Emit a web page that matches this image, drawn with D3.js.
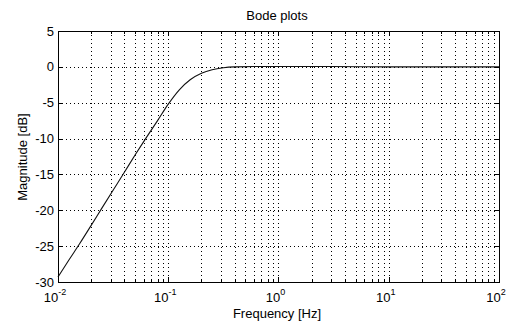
<!DOCTYPE html>
<html><head><meta charset="utf-8">
<script src="https://cdn.jsdelivr.net/npm/d3@7"></script>
<style>
html,body{margin:0;padding:0;background:#fff;}
text{font-family:"Liberation Sans",Arial,sans-serif;fill:#000;}
</style></head>
<body><svg id="c" width="510" height="326"></svg>
<script>
const freqs = [0.01,0.0126,0.0158,0.02,0.025,0.0316,0.04,0.05,0.063,0.08,0.1,0.126,0.158,0.2,0.25,0.316,0.4,0.6,1,3,10,30,100];
const mags  = [-29.3,-26.9,-24.6,-22.1,-19.7,-17.2,-14.7,-12.3,-9.9,-7.5,-5.2,-3.2,-1.8,-0.9,-0.4,-0.12,0,0.05,0.05,0.05,0,0,0];
const yTicks = [5,0,-5,-10,-15,-20,-25,-30];
const xDecadeExps = [-2,-1,0,1,2];
const title = "Bode plots", xLabel = "Frequency [Hz]", yLabel = "Magnitude [dB]";

const L=58, R=499, T=31, B=282;
const svg = d3.select("#c");
const x = d3.scaleLog().domain([0.01,100]).range([L,R]);
const y = d3.scaleLinear().domain([-30,5]).range([B,T]);

const minor = [];
for (let e=-2;e<2;e++) for (let m=1;m<10;m++) minor.push(m*Math.pow(10,e));
minor.push(100);

const g = svg.append("g");
// grid
g.selectAll(".gx").data(minor.filter(v=>v>0.01&&v<100)).enter().append("line")
 .attr("x1",d=>Math.round(x(d))+0.5).attr("x2",d=>Math.round(x(d))+0.5)
 .attr("y1",T).attr("y2",B).attr("stroke","#000").attr("stroke-width",1).attr("stroke-dasharray","1,3");
g.selectAll(".gy").data(yTicks.filter(v=>v>-30&&v<5)).enter().append("line")
 .attr("y1",d=>Math.round(y(d))+0.5).attr("y2",d=>Math.round(y(d))+0.5)
 .attr("x1",L).attr("x2",R).attr("stroke","#000").attr("stroke-width",1).attr("stroke-dasharray","1,3");

// curve
const line = d3.line().x((d,i)=>x(freqs[i])).y(d=>y(d)).curve(d3.curveMonotoneX);
g.append("path").attr("d",line(mags)).attr("fill","none").attr("stroke","#111").attr("stroke-width",1.1);

// box
g.append("rect").attr("x",L+0.5).attr("y",T+0.5).attr("width",R-L).attr("height",B-T)
 .attr("fill","none").attr("stroke","#000").attr("stroke-width",1);

// ticks inward
const tl=4;
minor.forEach(v=>{
  const xx=Math.round(x(v))+0.5;
  const len = Number.isInteger(Math.log10(v)) ? 5 : 3;
  g.append("line").attr("x1",xx).attr("x2",xx).attr("y1",B).attr("y2",B-len).attr("stroke","#000");
  g.append("line").attr("x1",xx).attr("x2",xx).attr("y1",T).attr("y2",T+len).attr("stroke","#000");
});
yTicks.forEach(v=>{
  const yy=Math.round(y(v))+0.5;
  g.append("line").attr("y1",yy).attr("y2",yy).attr("x1",L).attr("x2",L+tl).attr("stroke","#000");
  g.append("line").attr("y1",yy).attr("y2",yy).attr("x1",R).attr("x2",R-tl).attr("stroke","#000");
});

// y tick labels
g.selectAll(".yl").data(yTicks).enter().append("text")
 .attr("x",L-4).attr("y",d=>y(d)+4.5).attr("text-anchor","end").attr("font-size",13).text(d=>d);

// x tick labels
xDecadeExps.forEach(e=>{
  const t = g.append("text").attr("x",x(Math.pow(10,e))-3).attr("y",302).attr("text-anchor","middle").attr("font-size",13);
  t.append("tspan").text("10");
  t.append("tspan").attr("dy",-7).attr("font-size",9).text(e);
});

// labels
svg.append("text").attr("x",277).attr("y",20).attr("text-anchor","middle").attr("font-size",13).text(title);
svg.append("text").attr("x",277).attr("y",318).attr("text-anchor","middle").attr("font-size",13).text(xLabel);
svg.append("text").attr("transform","translate(27,157) rotate(-90)").attr("text-anchor","middle").attr("font-size",13).text(yLabel);
</script></body></html>
